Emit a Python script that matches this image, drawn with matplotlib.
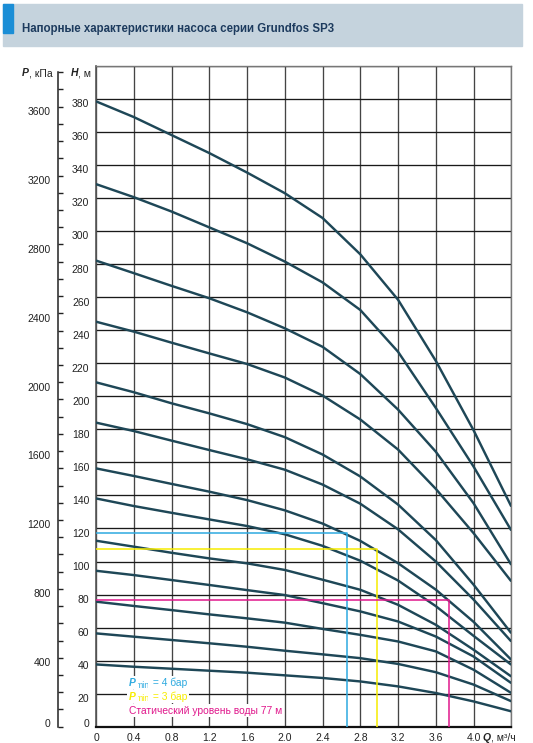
import matplotlib
matplotlib.use("Agg")
import matplotlib.pyplot as plt
from matplotlib.patches import Rectangle
from matplotlib.transforms import ScaledTranslation

plt.rcParams['font.family'] = ['Liberation Sans', 'DejaVu Sans']

#################
# DATA          #
#################

# flow, m3/h
Q = [0.0, 0.4, 0.8, 1.2, 1.6, 2.0, 2.4, 2.8, 3.2, 3.6, 4.0, 4.4]

# head, m (one list per pump model, top to bottom)
H_01 = [378.6, 369.1, 358.2, 347.3, 335.5, 323.0, 308.0, 286.0, 258.5, 221.5, 179.5, 133.3]
H_02 = [328.5, 320.6, 311.9, 302.3, 292.7, 281.6, 269.0, 252.3, 227.0, 193.0, 157.5, 118.8]
H_03 = [282.2, 274.6, 266.9, 259.4, 250.9, 241.2, 230.0, 213.5, 192.0, 166.5, 135.3, 98.0]
H_04 = [245.2, 239.2, 232.5, 226.0, 219.6, 211.4, 200.5, 186.0, 167.8, 144.0, 117.2, 88.0]
H_05 = [208.5, 202.5, 195.8, 189.7, 183.2, 175.3, 164.8, 151.5, 134.5, 113.0, 86.0, 56.6]
H_06 = [184.1, 179.0, 173.2, 167.5, 161.9, 155.6, 146.6, 135.0, 119.5, 100.0, 77.0, 51.6]
H_07 = [156.4, 151.8, 147.0, 142.3, 137.2, 131.0, 123.0, 112.5, 99.0, 83.0, 63.5, 40.5]
H_08 = [138.2, 133.6, 129.5, 125.5, 121.5, 116.5, 109.5, 100.5, 88.5, 73.0, 55.0, 37.5]
H_09 = [112.6, 109.0, 105.3, 101.9, 98.9, 94.9, 89.0, 82.9, 73.8, 61.7, 46.6, 30.4]
H_10 = [94.4, 91.8, 88.8, 85.8, 82.7, 79.7, 74.8, 69.8, 63.7, 54.6, 42.5, 26.4]
H_11 = [75.7, 73.1, 70.6, 68.0, 65.6, 63.0, 59.2, 55.6, 51.6, 45.6, 34.5, 20.4]
H_12 = [56.5, 54.5, 52.5, 50.5, 48.4, 46.0, 43.8, 41.5, 38.0, 33.0, 25.5, 15.4]
H_13 = [37.7, 36.3, 35.1, 33.9, 32.7, 31.1, 29.5, 27.4, 24.4, 20.4, 15.3, 9.3]
curves = [H_01, H_02, H_03, H_04, H_05, H_06, H_07, H_08, H_09, H_10, H_11, H_12, H_13]

# marker lines: head level and flow where it meets the curves
ref_head = [117.0, 107.5, 77.0]
ref_flow = [2.655, 2.975, 3.735]
ref_color = ["#2EAAE0", "#F7EC00", "#E0188C"]

x_ticks = [0.0, 0.4, 0.8, 1.2, 1.6, 2.0, 2.4, 2.8, 3.2, 3.6, 4.0, 4.4]
x_labels = ["0", "0.4", "0.8", "1.2", "1.6", "2.0", "2.4", "2.8", "3.2", "3.6", "4.0", ""]
h_ticks = list(range(0, 401, 20))
h_labels = [str(v) for v in range(0, 381, 20)] + [""]
p_ticks = list(range(0, 3601, 400))
p_minor = list(range(0, 3801, 100))
kpa_per_m = 9.59

#################
# PLOTTING      #
#################

W, Hpx = 533, 743
fig = plt.figure(figsize=(W / 100, Hpx / 100), dpi=100)

def fx(px):
    return px / W

def fy(py):
    return 1 - py / Hpx

FS = 7.5
TXT = "#222222"

# title banner
fig.patches.append(Rectangle((fx(3), fy(46)), fx(519), 42 / Hpx, transform=fig.transFigure,
                             color="#C5D3DD", zorder=0))
fig.patches.append(Rectangle((fx(3), fy(33)), fx(10), 29 / Hpx, transform=fig.transFigure,
                             color="#1B8ED6", zorder=1))
fig.text(fx(22), fy(32), "Напорные характеристики насоса серии Grundfos SP3",
         fontsize=8.3, fontweight="bold", color="#1D3B5E", va="baseline", ha="left")

left, right, top, bottom = 96, 511.3, 66, 726.7
ax = fig.add_axes([fx(left), fy(bottom), fx(right - left), (bottom - top) / Hpx])
ax.set_xlim(0, 4.4)
ax.set_ylim(0, 400)

for h in curves:
    ax.plot(Q, h, color="#1E4757", lw=1.75, zorder=3, solid_capstyle="butt",
            solid_joinstyle="round")

for hh, qq, c in zip(ref_head, ref_flow, ref_color):
    ax.plot([0, qq, qq], [hh, hh, 0], color=c, lw=1.1, zorder=4)

ax.set_xticks(x_ticks)
ax.set_xticklabels(x_labels)
ax.set_yticks(h_ticks)
ax.set_yticklabels(h_labels)
ax.grid(axis="y", color="#1a1a1a", lw=0.95)
ax.grid(axis="x", color="#444444", lw=0.95)
ax.set_axisbelow(True)
ax.tick_params(axis="both", length=0, labelsize=FS, colors=TXT)
ax.tick_params(axis="x", pad=4.3)
ax.tick_params(axis="y", pad=4.8)

ax.spines["bottom"].set_linewidth(1.6)
ax.spines["bottom"].set_color("#111111")
ax.spines["left"].set_linewidth(1.2)
ax.spines["left"].set_color("#555555")
for s in ("top", "right"):
    ax.spines[s].set_linewidth(1.0)
    ax.spines[s].set_color("#777777")

# pressure axis on the far left
ax2 = fig.add_axes([fx(58.3), fy(bottom), 0.02, (bottom - top) / Hpx])
ax2.patch.set_visible(False)
ax2.set_ylim(0, 400 * kpa_per_m)
for s in ("top", "right", "bottom"):
    ax2.spines[s].set_visible(False)
ax2.spines["left"].set_bounds(0, 3800)
ax2.spines["left"].set_color("#222222")
ax2.spines["left"].set_linewidth(1.1)
ax2.set_xticks([])
ax2.set_yticks(p_ticks)
ax2.set_yticklabels([str(v) for v in p_ticks])
ax2.set_yticks(p_minor, minor=True)
ax2.tick_params(axis="y", which="both", direction="in", length=3.8, width=1.0,
                color="#222222", labelsize=FS, labelcolor=TXT, pad=5.5)

# labels in the scan sit a little below their lines, the zero a little above
for axis in (ax, ax2):
    for t in axis.yaxis.get_major_ticks():
        lab = t.label1
        dy = 4.0 if lab.get_text() == "0" else -4.3
        lab.set_transform(lab.get_transform() + ScaledTranslation(0, dy / 100, fig.dpi_scale_trans))

# axis titles
t = fig.text(fx(22), fy(73), "P", fontsize=FS, fontweight="bold", style="italic",
             color=TXT, va="center", ha="left")
ax.annotate(", кПа", xy=(1, 0), xycoords=t, va="bottom", ha="left", fontsize=FS, color=TXT)
t = fig.text(fx(71), fy(73), "H", fontsize=FS, fontweight="bold", style="italic",
             color=TXT, va="center", ha="left")
ax.annotate(", м", xy=(1, 0), xycoords=t, va="bottom", ha="left", fontsize=FS, color=TXT)
t = ax.annotate("Q", xy=(4.1, 0), xycoords=("data", "axes fraction"), xytext=(0, -4.3),
                textcoords="offset points", va="top", ha="left", fontsize=FS,
                fontweight="bold", style="italic", color=TXT)
ax.annotate(", м³/ч", xy=(1, 0), xycoords=t, va="bottom", ha="left", fontsize=FS, color=TXT)

# legend block
LFS = 7.4
box = dict(fc="white", ec="none", pad=1.2)
leg_y = [682.7, 696.5, 710.7]
leg_rest = [" = 4 бар", " = 3 бар"]
for i in range(2):
    c = ref_color[i]
    p = fig.text(fx(129), fy(leg_y[i]), "P", fontsize=LFS, fontweight="bold", style="italic",
                 color=c, va="center", ha="left", bbox=box, zorder=6)
    m = ax.annotate("min", xy=(1, 0), xycoords=p, xytext=(0, -1.3), textcoords="offset points",
                    va="bottom", ha="left", fontsize=6.2, color=c, bbox=box, zorder=6)
    ax.annotate(leg_rest[i], xy=(1, 0), xycoords=(m, p), va="bottom", ha="left",
                fontsize=LFS, color=c, bbox=box, zorder=6)
fig.text(fx(129), fy(leg_y[2]), "Статический уровень воды 77 м", fontsize=LFS,
         color=ref_color[2], va="center", ha="left", bbox=box, zorder=6)

fig.savefig("out.png", dpi=100)
